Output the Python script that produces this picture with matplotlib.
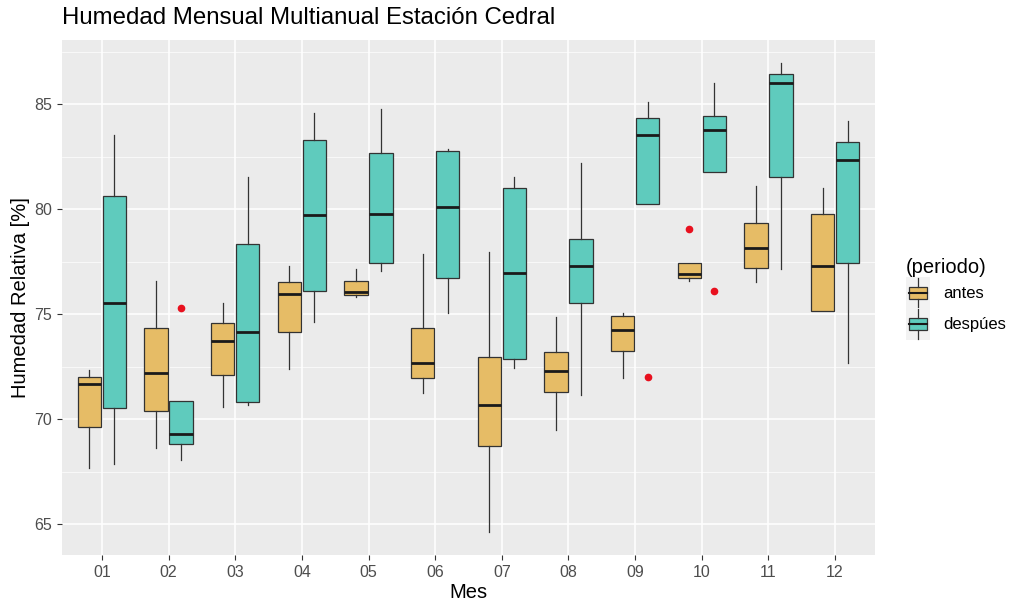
import matplotlib.pyplot as plt
from matplotlib.patches import Rectangle, Patch
from matplotlib.lines import Line2D
from matplotlib.legend_handler import HandlerBase

plt.rcParams["font.family"] = ["Liberation Sans", "DejaVu Sans"]

months = ["01", "02", "03", "04", "05", "06", "07", "08", "09", "10", "11", "12"]

# antes: lower whisker, q1, median, q3, upper whisker, outliers
antes_lo = [67.7, 68.65, 70.6, 72.4, 75.8, 71.25, 64.65, 69.5, 71.95, 76.6, 76.55, 75.15]
antes_q1 = [69.65, 70.4, 72.1, 74.15, 75.9, 71.95, 68.75, 71.3, 73.25, 76.75, 77.2, 75.15]
antes_med = [71.7, 72.2, 73.75, 75.95, 76.05, 72.7, 70.7, 72.3, 74.25, 76.9, 78.15, 77.3]
antes_q3 = [72.0, 74.35, 74.6, 76.55, 76.6, 74.35, 72.95, 73.2, 74.9, 77.45, 79.35, 79.8]
antes_hi = [72.35, 76.6, 75.55, 77.3, 77.15, 77.85, 77.95, 74.85, 75.05, 77.45, 81.1, 81.0]
antes_out = [[], [], [], [], [], [], [], [], [], [79.05], [], []]

# despues
desp_lo = [67.85, 68.05, 70.7, 74.65, 77.05, 75.05, 72.45, 71.15, 80.25, 81.8, 77.15, 72.7]
desp_q1 = [70.55, 68.8, 70.8, 76.1, 77.45, 76.75, 72.85, 75.55, 80.25, 81.8, 81.55, 77.45]
desp_med = [75.55, 69.3, 74.15, 79.75, 79.8, 80.1, 76.95, 77.3, 83.55, 83.8, 86.0, 82.35]
desp_q3 = [80.65, 70.85, 78.35, 83.3, 82.7, 82.8, 81.0, 78.6, 84.35, 84.45, 86.45, 83.2]
desp_hi = [83.55, 70.85, 81.55, 84.6, 84.8, 82.85, 81.55, 82.2, 85.1, 86.0, 86.95, 84.2]
desp_out = [[], [75.3], [], [], [], [], [], [], [72.0], [76.1], [], []]

col_antes = "#E6BC66"
col_desp = "#5FCBBD"
edge = "#333333"


def stats(lo, q1, med, q3, hi, out):
    return [dict(whislo=a, q1=b, med=c, q3=d, whishi=e, fliers=f)
            for a, b, c, d, e, f in zip(lo, q1, med, q3, hi, out)]


fig = plt.figure(figsize=(10.2, 6.1), dpi=100)
ax = fig.add_axes([62 / 1020, 1 - 555 / 610, 813 / 1020, 515 / 610])
ax.set_facecolor("#EBEBEB")

x = list(range(1, len(months) + 1))
w = 0.35
for st, off, col in [(stats(antes_lo, antes_q1, antes_med, antes_q3, antes_hi, antes_out), -0.1875, col_antes),
                     (stats(desp_lo, desp_q1, desp_med, desp_q3, desp_hi, desp_out), 0.1875, col_desp)]:
    ax.bxp(st, positions=[p + off for p in x], widths=w, patch_artist=True,
           showcaps=False, manage_ticks=False,
           boxprops=dict(facecolor=col, edgecolor=edge, linewidth=0.9),
           medianprops=dict(color="#1A1A1A", linewidth=2.0),
           whiskerprops=dict(color=edge, linewidth=0.9),
           flierprops=dict(marker="o", markerfacecolor="#E8101E", markeredgecolor="#E8101E",
                           markersize=4.5))

ymin = min(antes_lo + desp_lo)
ymax = max(antes_hi + desp_hi)
pad = (ymax - ymin) * 0.05
ax.set_ylim(ymin - pad, ymax + pad)
ax.set_xlim(0.4, len(months) + 0.6)

ax.set_xticks(x)
ax.set_xticklabels(months)
ax.set_yticks([65, 70, 75, 80, 85])
ax.set_yticks([67.5, 72.5, 77.5, 82.5, 87.5], minor=True)
ax.grid(which="major", color="white", linewidth=1.1)
ax.grid(which="minor", axis="y", color="white", linewidth=0.5)
ax.set_axisbelow(True)
for s in ax.spines.values():
    s.set_visible(False)
ax.tick_params(which="major", length=3.5, color="#333333", labelcolor="#4D4D4D", labelsize=11.5)
ax.tick_params(which="minor", length=0)

ax.set_xlabel("Mes", fontsize=14.5, color="black", labelpad=2)
ax.set_ylabel("Humedad Relativa [%]", fontsize=14.5, color="black", labelpad=3)
fig.text(62 / 1020, 1 - 24 / 610, "Humedad Mensual Multianual Estación Cedral",
         fontsize=17.3, va="baseline", ha="left")


class BoxHandler(HandlerBase):
    def create_artists(self, legend, orig_handle, xdescent, ydescent, width, height, fontsize, trans):
        x0, y0 = -xdescent, -ydescent
        fc = orig_handle.get_facecolor()
        bg = Rectangle((x0, y0), width, height, facecolor="#F2F2F2", edgecolor="none", transform=trans)
        box = Rectangle((x0 + 0.1 * width, y0 + 0.3 * height), 0.8 * width, 0.4 * height,
                        facecolor=fc, edgecolor=edge, linewidth=0.9, transform=trans)
        cx = x0 + width / 2
        w1 = Line2D([cx, cx], [y0 + 0.02 * height, y0 + 0.3 * height], color=edge, lw=0.9, transform=trans)
        w2 = Line2D([cx, cx], [y0 + 0.7 * height, y0 + 0.98 * height], color=edge, lw=0.9, transform=trans)
        md = Line2D([x0 + 0.1 * width, x0 + 0.9 * width], [y0 + 0.5 * height] * 2,
                    color="#1A1A1A", lw=1.5, transform=trans)
        return [bg, box, w1, w2, md]


handles = [Patch(facecolor=col_antes, label="antes"), Patch(facecolor=col_desp, label="despúes")]
leg = fig.legend(handles=handles, loc="center left", bbox_to_anchor=(0.877, 0.51),
                 frameon=False, title="(periodo)", title_fontsize=14.5, fontsize=12,
                 handlelength=1.4, handleheight=2.5, handletextpad=0.85, labelspacing=0.0,
                 borderpad=0.2, alignment="left", handler_map={Patch: BoxHandler()})

fig.savefig("out.png", dpi=100)
